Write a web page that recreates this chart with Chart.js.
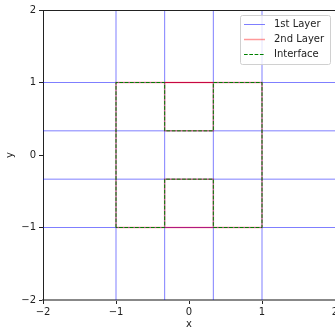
<!DOCTYPE html>
<html>
<head>
<meta charset="utf-8">
<script src="https://cdn.jsdelivr.net/npm/chart.js@4.4.1/dist/chart.umd.min.js"></script>
<style>
  html, body { margin: 0; padding: 0; background: #fff; overflow: hidden; }
  #wrap { position: absolute; left: 0; top: 0; width: 360px; height: 330px; }
</style>
</head>
<body>
<div id="wrap"><canvas id="meshChart"></canvas></div>
<script>
// axis ticks
const xTicks = [-2, -1, 0, 1, 2];
const yTicks = [-2, -1, 0, 1, 2];

// 1st layer: full-length mesh lines
const firstLayerX = [-1, -1/3, 1/3, 1];
const firstLayerY = [-1, -1/3, 1/3, 1];

// interface: H-shaped boundary
const interfacePath = [
    [-1, -1], [-1, 1], [-1/3, 1], [-1/3, 1/3], [1/3, 1/3], [1/3, 1],
    [1, 1], [1, -1], [1/3, -1], [1/3, -1/3], [-1/3, -1/3], [-1/3, -1], [-1, -1]
];

// 2nd layer: boundary plus the notch edges (overlapping edges drawn darker)
const topNotchEdge = [[-1/3, 1], [1/3, 1]];
const bottomNotchEdge = [[-1/3, -1], [1/3, -1]];
const secondLayerPaths = [interfacePath, topNotchEdge, bottomNotchEdge];

const FONT = "'DejaVu Sans', sans-serif";

function pathsToData(paths) {
    const out = [];
    paths.forEach((p, i) => {
        if (i > 0) out.push({ x: NaN, y: NaN });
        p.forEach(([x, y]) => out.push({ x, y }));
    });
    return out;
}

function firstLayerData() {
    const paths = [];
    firstLayerX.forEach(x => paths.push([[x, -2], [x, 2]]));
    firstLayerY.forEach(y => paths.push([[-2, y], [2, y]]));
    return pathsToData(paths);
}

const minus = v => (v < 0 ? '\u2212' + Math.abs(v) : String(v));

// draws top spine and legend box inside the plot
const extrasPlugin = {
    id: 'extras',
    afterDraw(chart) {
        const ctx = chart.ctx;
        const area = chart.chartArea;
        ctx.save();
        ctx.strokeStyle = '#222';
        ctx.lineWidth = 1;
        ctx.beginPath();
        ctx.moveTo(area.left, area.top + 0.5);
        ctx.lineTo(area.right, area.top + 0.5);
        ctx.stroke();

        // legend
        const bx = 240, by = 15, bw = 90, bh = 49;
        ctx.fillStyle = 'rgba(255,255,255,0.8)';
        ctx.strokeStyle = '#d0d0d0';
        ctx.beginPath();
        ctx.roundRect(bx + 0.5, by + 0.5, bw, bh, 2);
        ctx.fill();
        ctx.stroke();

        const items = chart.data.datasets.filter(d => d.label);
        ctx.font = '10px ' + FONT;
        ctx.textBaseline = 'middle';
        items.forEach((d, i) => {
            const y = by + 9.5 + i * 15;
            ctx.strokeStyle = d.borderColor;
            ctx.lineWidth = d.borderWidth;
            ctx.setLineDash(d.borderDash || []);
            ctx.beginPath();
            ctx.moveTo(bx + 4, y);
            ctx.lineTo(bx + 25, y);
            ctx.stroke();
            ctx.setLineDash([]);
            ctx.fillStyle = '#222';
            ctx.fillText(d.label, bx + 34, y);
        });
        ctx.restore();
    }
};

new Chart(document.getElementById('meshChart').getContext('2d'), {
    type: 'scatter',
    data: {
        datasets: [
            {
                label: '1st Layer',
                data: firstLayerData(),
                showLine: true,
                borderColor: 'rgba(0,0,255,0.5)',
                borderWidth: 1,
                pointRadius: 0,
                order: 5
            },
            {
                label: '2nd Layer',
                data: pathsToData(secondLayerPaths),
                showLine: true,
                borderColor: 'rgba(255,0,0,0.4)',
                borderWidth: 1.5,
                pointRadius: 0,
                order: 4
            },
            {
                label: 'Interface',
                data: pathsToData([interfacePath]),
                showLine: true,
                borderColor: 'green',
                borderWidth: 1,
                borderDash: [3.7, 1.6],
                pointRadius: 0,
                order: 1
            },
            {
                // shared top notch edge, drawn over several times
                data: pathsToData([topNotchEdge]),
                showLine: true,
                borderColor: 'rgba(200,0,60,0.9)',
                borderWidth: 1.2,
                pointRadius: 0,
                order: 3
            },
            {
                data: pathsToData([bottomNotchEdge]),
                showLine: true,
                borderColor: 'rgba(175,20,130,0.9)',
                borderWidth: 1.2,
                pointRadius: 0,
                order: 3
            }
        ]
    },
    options: {
        responsive: true,
        maintainAspectRatio: false,
        animation: false,
        spanGaps: false,
        layout: { padding: { top: 10, right: 25, left: 0, bottom: 0 } },
        plugins: {
            legend: { display: false },
            tooltip: { enabled: false }
        },
        scales: {
            x: {
                type: 'linear',
                min: -2,
                max: 2,
                afterFit: s => { s.height = 30; },
                afterBuildTicks: s => { s.ticks = xTicks.map(v => ({ value: v })); },
                ticks: {
                    callback: minus,
                    font: { family: FONT, size: 10 },
                    color: '#222',
                    padding: 2,
                    maxRotation: 0
                },
                grid: { drawOnChartArea: false, tickLength: 4, color: '#222' },
                border: { display: true, color: '#888', width: 2 },
                title: {
                    display: true,
                    text: 'x',
                    font: { family: FONT, size: 10 },
                    color: '#222',
                    padding: { top: 0, bottom: 0 }
                }
            },
            y: {
                type: 'linear',
                min: -2,
                max: 2,
                afterFit: s => { s.width = 43; },
                afterBuildTicks: s => { s.ticks = yTicks.map(v => ({ value: v })); },
                ticks: {
                    callback: minus,
                    font: { family: FONT, size: 10 },
                    color: '#222',
                    padding: 3
                },
                grid: { drawOnChartArea: false, tickLength: 4, color: '#222' },
                border: { display: true, color: '#222', width: 1 },
                title: {
                    display: true,
                    text: 'y',
                    font: { family: FONT, size: 10 },
                    color: '#222',
                    padding: { top: 4, bottom: 0 }
                }
            }
        }
    },
    plugins: [extrasPlugin]
});
</script>
</body>
</html>
